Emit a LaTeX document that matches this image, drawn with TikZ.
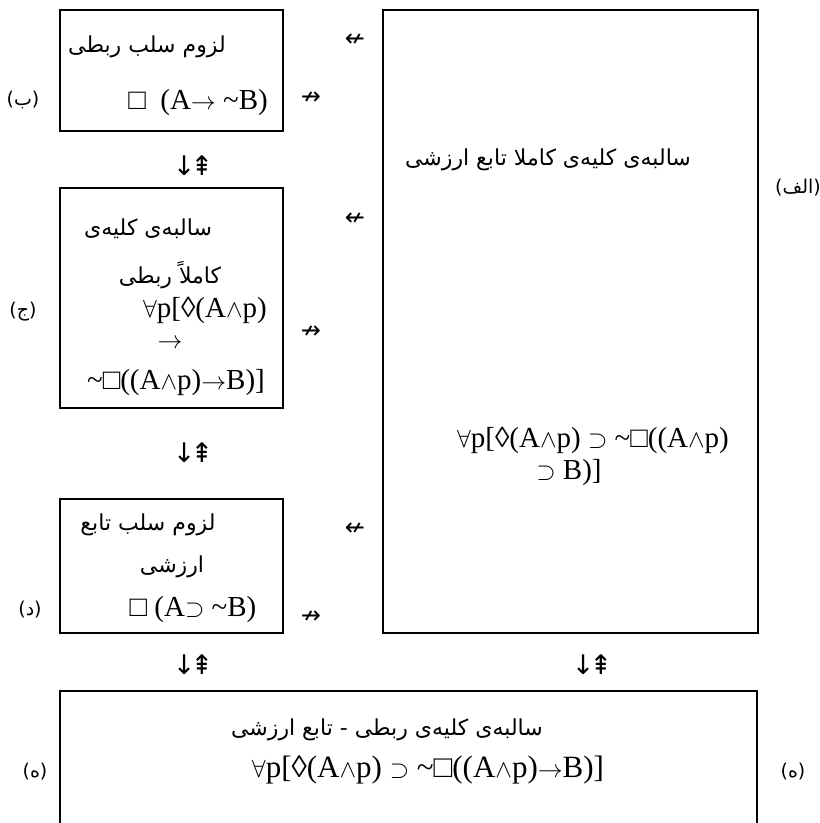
\documentclass[tikz,border=0pt]{standalone}
\usepackage{fontspec}
\setmainfont{Liberation Serif}
\newfontfamily\fa[Script=Arabic]{DejaVu Sans}
\newfontfamily\arr{DejaVu Sans}
\newcommand\qall{$\forall$}
\newcommand\qand{$\wedge$}
\newcommand\qsup{$\supset$}
\newcommand\qto{$\rightarrow$}
\newcommand\qneg{\char"007E\relax}
\newcommand\qdn{↓\kern-5pt⇞}
\TeXXeTstate=1
\begin{document}
\begin{tikzpicture}[x=1pt,y=-1pt,
  box/.style={draw,line width=2.6pt,rectangle,inner sep=0pt},
  fatxt/.style={inner sep=0pt,font=\fa\fontsize{22}{25}\selectfont},
  lbl/.style={inner sep=0pt,font=\fa\fontsize{19}{22}\selectfont},
  frm/.style={inner sep=0pt,font=\fontsize{29}{32}\selectfont},
  bfrm/.style={inner sep=0pt,font=\fontsize{31}{34}\selectfont},
  arw/.style={inner sep=0pt,font=\arr\fontsize{24}{26}\selectfont},
  darw/.style={inner sep=0pt,font=\arr\fontsize{27}{29}\selectfont}]
\useasboundingbox (0,0) rectangle (820,823);
\clip (0,0) rectangle (820,823);
% boxes
\node[box,minimum width=223pt,minimum height=121pt] (bB) at (171.5,70.5) {};
\node[box,minimum width=223pt,minimum height=220pt] (bJ) at (171.5,298) {};
\node[box,minimum width=223pt,minimum height=134pt] (bD) at (171.5,566) {};
\node[box,minimum width=375pt,minimum height=623pt] (bA) at (570.5,321.5) {};
\node[box,minimum width=697pt,minimum height=160pt] (bE) at (408.5,771) {};
% box B
\node[fatxt] (tB1) at (147,47) {\beginR لزوم سلب ربطی\endR};
\node[frm,anchor=east] (tB2) at (268,103) {□\ \ (A\qto{}\ \qneg B)};
\node[lbl] (lB) at (23,100) {\beginR(ب)\endR};
% box J
\node[fatxt] (tJ1) at (148,229) {\beginR سالبه‌ی کلیه‌ی\endR};
\node[fatxt] (tJ2) at (170,275) {\beginR کاملاً ربطی\endR};
\node[frm] (tJ3) at (205,310) {\qall p[◊(A\qand p)};
\node[frm] (tJ4) at (170,344) {\qto};
\node[frm] (tJ5) at (176,383) {\qneg□((A\qand p)\qto B)]};
\node[lbl] (lJ) at (23,312) {\beginR(ج)\endR};
% box D
\node[fatxt] (tD1) at (148,525) {\beginR لزوم سلب تابع\endR};
\node[fatxt] (tD2) at (172,567) {\beginR ارزشی\endR};
\node[frm] (tD3) at (193,610) {□ (A\qsup{} \qneg B)};
\node[lbl] (lD) at (30,610) {\beginR(د)\endR};
% box A
\node[fatxt] (tA1) at (548,160) {\beginR سالبه‌ی کلیه‌ی کاملا تابع ارزشی\endR};
\node[frm] (tA2) at (593,440) {\qall p[◊(A\qand p) \qsup{} \qneg□((A\qand p)};
\node[frm] (tA3) at (569,473) {\qsup{} B)]};
\node[lbl] (lA) at (798,188) {\beginR(الف)\endR};
% box E
\node[fatxt] (tE1) at (387,730) {\beginR سالبه‌ی کلیه‌ی ربطی - تابع ارزشی\endR};
\node[bfrm] (tE2) at (428,770) {\qall p[◊(A\qand p) \qsup{} \qneg□((A\qand p)\qto B)]};
\node[lbl] (lE1) at (35,772) {\beginR(ه)\endR};
\node[lbl] (lE2) at (793,772) {\beginR(ه)\endR};
% relation arrows
\node[arw] (r1) at (355,40) {↚};
\node[arw] (r2) at (311,98) {↛};
\node[arw] (r3) at (355,219) {↚};
\node[arw] (r4) at (311,332) {↛};
\node[arw] (r5) at (355,529) {↚};
\node[arw] (r6) at (311,617) {↛};
\node[darw] (d1) at (193,166) {\qdn};
\node[darw] (d2) at (193,453) {\qdn};
\node[darw] (d3) at (193,665) {\qdn};
\node[darw] (d4) at (592,665) {\qdn};
\end{tikzpicture}
\end{document}
